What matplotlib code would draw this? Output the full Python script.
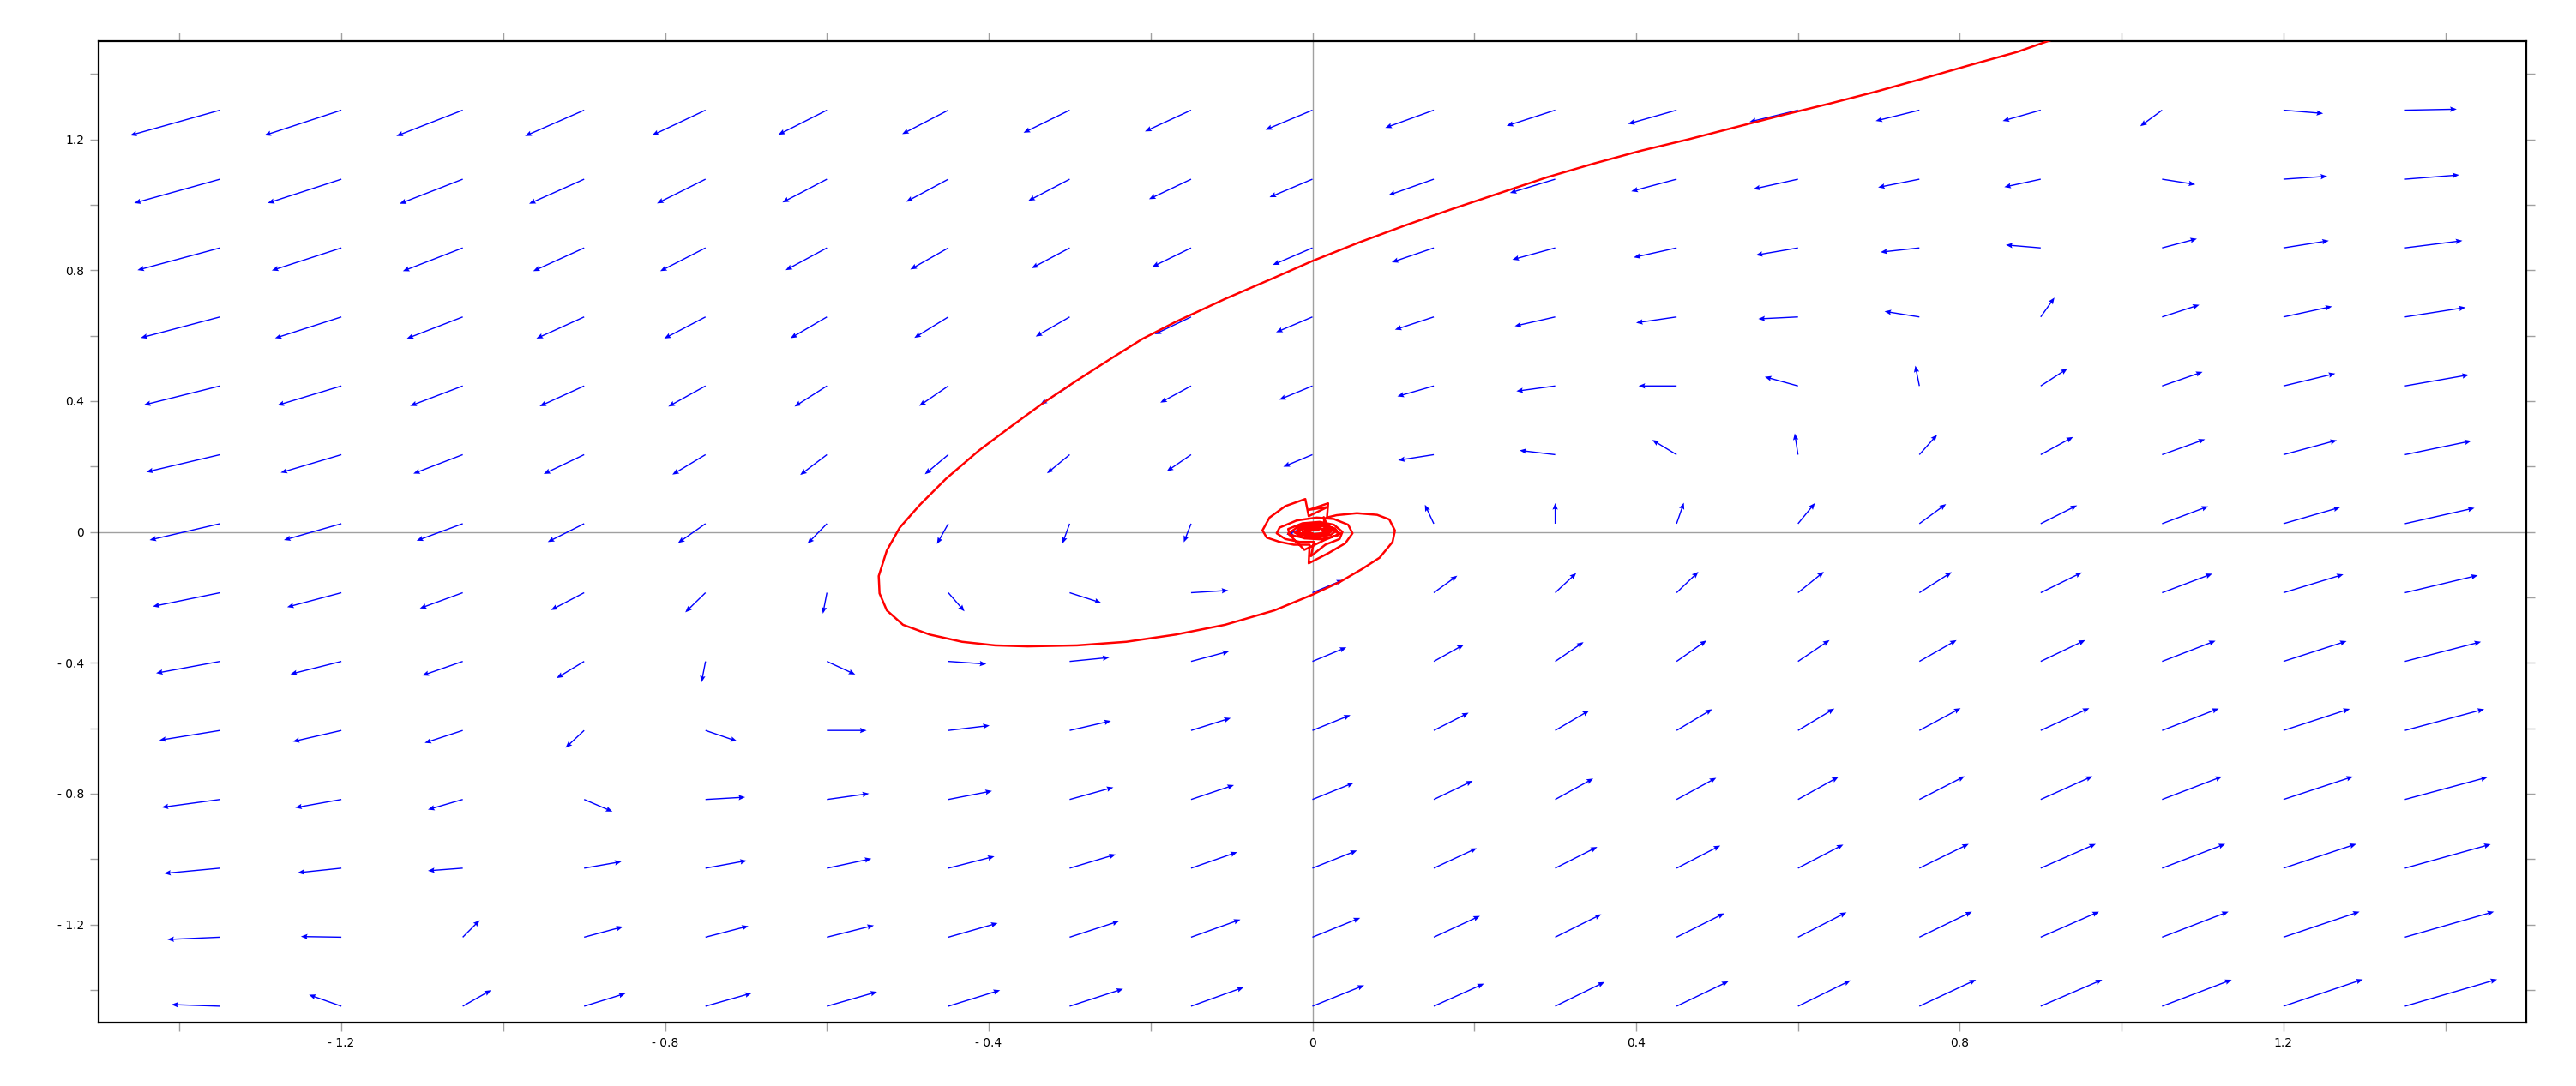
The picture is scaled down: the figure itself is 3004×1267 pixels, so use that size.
import numpy as np
import matplotlib
matplotlib.use("Agg")
import matplotlib.pyplot as plt
from matplotlib.ticker import MultipleLocator

# grid of arrow tails
x_grid = [-1.35, -1.2, -1.05, -0.9, -0.75, -0.6, -0.45, -0.3, -0.15, 0.0,
          0.15, 0.3, 0.45, 0.6, 0.75, 0.9, 1.05, 1.2, 1.35]
y_grid = [1.289, 1.078, 0.868, 0.657, 0.446, 0.236, 0.025,
          -0.186, -0.396, -0.607, -0.818, -1.028, -1.239, -1.45]

# arrow components, one row per y_grid value
U = [
    [-0.111, -0.095, -0.082, -0.073, -0.066, -0.060, -0.057, -0.057, -0.057, -0.058, -0.060, -0.060, -0.060, -0.060, -0.054, -0.047, -0.027, 0.049, 0.064],
    [-0.106, -0.091, -0.078, -0.068, -0.060, -0.055, -0.052, -0.051, -0.052, -0.053, -0.056, -0.056, -0.056, -0.055, -0.051, -0.045, 0.041, 0.054, 0.067],
    [-0.102, -0.086, -0.074, -0.063, -0.056, -0.051, -0.047, -0.047, -0.048, -0.049, -0.052, -0.053, -0.053, -0.052, -0.048, -0.043, 0.043, 0.056, 0.071],
    [-0.098, -0.082, -0.069, -0.059, -0.051, -0.045, -0.042, -0.042, -0.045, -0.045, -0.048, -0.050, -0.050, -0.049, -0.043, 0.017, 0.046, 0.060, 0.075],
    [-0.094, -0.079, -0.065, -0.055, -0.046, -0.040, -0.036, -0.036, -0.038, -0.041, -0.045, -0.048, -0.047, -0.041, -0.005, 0.033, 0.050, 0.064, 0.079],
    [-0.091, -0.075, -0.061, -0.050, -0.041, -0.033, -0.029, -0.028, -0.030, -0.036, -0.044, -0.044, -0.030, -0.004, 0.022, 0.040, 0.053, 0.066, 0.082],
    [-0.087, -0.071, -0.057, -0.045, -0.034, -0.024, -0.014, -0.009, -0.009, -0.032, -0.011, 0.000, 0.009, 0.021, 0.033, 0.045, 0.057, 0.070, 0.086],
    [-0.083, -0.067, -0.053, -0.041, -0.025, -0.005, 0.020, 0.039, 0.046, 0.038, 0.029, 0.026, 0.027, 0.032, 0.040, 0.051, 0.062, 0.074, 0.090],
    [-0.079, -0.063, -0.050, -0.034, -0.005, 0.035, 0.047, 0.049, 0.047, 0.042, 0.037, 0.035, 0.037, 0.039, 0.046, 0.055, 0.066, 0.078, 0.094],
    [-0.075, -0.060, -0.047, -0.023, 0.039, 0.049, 0.051, 0.051, 0.049, 0.047, 0.043, 0.042, 0.044, 0.045, 0.051, 0.060, 0.070, 0.082, 0.098],
    [-0.072, -0.057, -0.043, 0.035, 0.049, 0.052, 0.054, 0.054, 0.053, 0.051, 0.048, 0.047, 0.049, 0.050, 0.056, 0.064, 0.074, 0.086, 0.102],
    [-0.069, -0.054, -0.043, 0.046, 0.051, 0.055, 0.057, 0.057, 0.057, 0.055, 0.053, 0.052, 0.054, 0.056, 0.061, 0.068, 0.078, 0.090, 0.106],
    [-0.065, -0.050, 0.021, 0.048, 0.053, 0.058, 0.061, 0.061, 0.061, 0.059, 0.057, 0.057, 0.059, 0.060, 0.065, 0.072, 0.082, 0.094, 0.110],
    [-0.060, -0.040, 0.035, 0.051, 0.057, 0.062, 0.064, 0.066, 0.065, 0.064, 0.062, 0.061, 0.064, 0.065, 0.070, 0.076, 0.086, 0.098, 0.114],
]
V = [
    [-0.077, -0.077, -0.079, -0.079, -0.077, -0.075, -0.073, -0.069, -0.065, -0.060, -0.054, -0.048, -0.042, -0.036, -0.033, -0.033, -0.049, -0.010, 0.003],
    [-0.073, -0.073, -0.075, -0.075, -0.074, -0.071, -0.069, -0.066, -0.061, -0.055, -0.049, -0.042, -0.037, -0.030, -0.025, -0.024, -0.016, 0.009, 0.013],
    [-0.068, -0.069, -0.071, -0.071, -0.071, -0.068, -0.066, -0.062, -0.058, -0.052, -0.044, -0.036, -0.029, -0.022, -0.013, 0.009, 0.028, 0.022, 0.022],
    [-0.064, -0.065, -0.066, -0.066, -0.066, -0.065, -0.064, -0.060, -0.053, -0.047, -0.039, -0.028, -0.018, -0.006, 0.017, 0.059, 0.037, 0.032, 0.029],
    [-0.058, -0.059, -0.061, -0.062, -0.063, -0.063, -0.061, -0.056, -0.051, -0.042, -0.032, -0.016, 0.000, 0.028, 0.062, 0.053, 0.043, 0.038, 0.034],
    [-0.053, -0.055, -0.058, -0.059, -0.061, -0.062, -0.060, -0.057, -0.051, -0.037, -0.017, 0.013, 0.045, 0.065, 0.061, 0.054, 0.047, 0.044, 0.042],
    [-0.050, -0.050, -0.052, -0.056, -0.059, -0.061, -0.062, -0.061, -0.057, -0.034, 0.058, 0.063, 0.064, 0.063, 0.060, 0.056, 0.053, 0.050, 0.048],
    [-0.042, -0.044, -0.048, -0.053, -0.060, -0.064, -0.057, -0.031, 0.007, 0.039, 0.052, 0.060, 0.064, 0.064, 0.063, 0.062, 0.058, 0.056, 0.053],
    [-0.036, -0.039, -0.043, -0.051, -0.064, -0.040, -0.008, 0.012, 0.031, 0.043, 0.051, 0.059, 0.064, 0.065, 0.065, 0.065, 0.063, 0.062, 0.060],
    [-0.030, -0.034, -0.038, -0.053, -0.033, 0.000, 0.015, 0.029, 0.038, 0.047, 0.054, 0.061, 0.065, 0.067, 0.068, 0.068, 0.067, 0.066, 0.065],
    [-0.024, -0.025, -0.031, -0.037, 0.007, 0.018, 0.026, 0.037, 0.044, 0.051, 0.057, 0.064, 0.066, 0.069, 0.071, 0.071, 0.070, 0.070, 0.068],
    [-0.016, -0.014, -0.008, 0.020, 0.023, 0.029, 0.036, 0.042, 0.049, 0.054, 0.061, 0.065, 0.069, 0.072, 0.074, 0.074, 0.074, 0.074, 0.073],
    [-0.007, 0.002, 0.052, 0.032, 0.034, 0.036, 0.043, 0.049, 0.054, 0.059, 0.065, 0.070, 0.073, 0.076, 0.078, 0.078, 0.078, 0.078, 0.078],
    [0.005, 0.035, 0.049, 0.039, 0.040, 0.044, 0.049, 0.053, 0.058, 0.064, 0.069, 0.074, 0.076, 0.079, 0.081, 0.081, 0.081, 0.082, 0.082],
]

# the red trajectory, read point by point: the big arc first
arc_x = [0.915, 0.903, 0.871, 0.813, 0.755, 0.697, 0.639, 0.581, 0.523, 0.465, 0.406,
         0.348, 0.290, 0.232, 0.174, 0.116, 0.058, 0.000, -0.047, -0.108, -0.169, -0.210,
         -0.250, -0.291, -0.331, -0.372, -0.412, -0.453, -0.485, -0.510, -0.526, -0.536,
         -0.535, -0.526, -0.506, -0.473, -0.433, -0.392, -0.352, -0.291, -0.230, -0.169,
         -0.108, -0.047, 0.000, 0.034, 0.061, 0.083, 0.099, 0.102, 0.095, 0.080, 0.055,
         0.030, 0.018]
arc_y = [1.505, 1.495, 1.467, 1.427, 1.386, 1.346, 1.309, 1.274, 1.237, 1.200, 1.165,
         1.126, 1.084, 1.036, 0.988, 0.938, 0.885, 0.828, 0.777, 0.712, 0.642, 0.590,
         0.528, 0.463, 0.397, 0.323, 0.249, 0.162, 0.083, 0.013, -0.057, -0.135,
         -0.188, -0.240, -0.284, -0.314, -0.336, -0.347, -0.350, -0.347, -0.336, -0.314,
         -0.284, -0.240, -0.192, -0.153, -0.114, -0.079, -0.031, 0.004, 0.038, 0.052, 0.057,
         0.051, 0.044]

# ...then the jagged tangle it makes round the origin
tangle_x = [0.0194, -0.0046, 0.0187, -0.0046, -0.0088, -0.0336, -0.0530, -0.0618, -0.0565,
            -0.0406, -0.0230, -0.0035, -0.0046, 0.0194, 0.0406, 0.0495, 0.0442, 0.0265,
            0.0053, -0.0194, -0.0406, -0.0442, -0.0336, -0.0159, 0.0018, -0.0018, 0.0159,
            0.0336, 0.0371, 0.0265, 0.0088, -0.0124, -0.0300, -0.0283, -0.0124, 0.0053,
            0.0230, 0.0300, 0.0194, 0.0018, -0.0159, -0.0194, -0.0088, 0.0071, 0.0159,
            0.0140, 0.0200, 0.0350, 0.0150, -0.0100, -0.0300, -0.0150, 0.0100, 0.0280,
            0.0320, 0.0120, -0.0100, -0.0220, -0.0050, 0.0120, 0.0250, 0.0150, -0.0050,
            -0.0180, -0.0120, 0.0050, 0.0200, 0.0120, 0.0000, -0.0120, -0.0050, 0.0100,
            0.0150, 0.0000, -0.0080, 0.0050, 0.0088, -0.0018, -0.0071, 0.0]
tangle_y = [0.0873, 0.0672, 0.0760, 0.0480, 0.1004, 0.0786, 0.0437, 0.0044, -0.0175,
            -0.0306, -0.0393, -0.0393, -0.0961, -0.0655, -0.0349, -0.0044, 0.0218, 0.0393,
            0.0437, 0.0349, 0.0131, -0.0044, -0.0218, -0.0306, -0.0306, -0.0742, -0.0393,
            -0.0218, 0.0, 0.0218, 0.0306, 0.0262, 0.0087, -0.0087, -0.0175, -0.0175,
            -0.0087, 0.0044, 0.0175, 0.0218, 0.0131, 0.0, -0.0087, -0.0087, 0.0,
            0.0450, 0.0100, -0.0050, -0.0250, -0.0550, -0.0050, 0.0200, 0.0250, 0.0100,
            -0.0100, -0.0230, -0.0200, -0.0020, 0.0160, 0.0180, 0.0050, -0.0150, -0.0160,
            -0.0030, 0.0120, 0.0150, 0.0030, -0.0120, -0.0120, 0.0000, 0.0110, 0.0100,
            -0.0030, -0.0080, 0.0020, 0.0060, 0.0087, 0.0087, 0.0, -0.0044]

x_ticks = [-1.2, -0.8, -0.4, 0.0, 0.4, 0.8, 1.2]
x_ticklabels = ['- 1.2', '- 0.8', '- 0.4', '0', '0.4', '0.8', '1.2']
y_ticks = [-1.2, -0.8, -0.4, 0.0, 0.4, 0.8, 1.2]
y_ticklabels = ['- 1.2', '- 0.8', '- 0.4', '0', '0.4', '0.8', '1.2']

fig = plt.figure(figsize=(30.04, 12.67), dpi=100)
ax = fig.add_axes([115 / 3004, 1 - 1193 / 1267, 2831 / 3004, 1145 / 1267])

# axes through the origin
ax.axhline(0, color='#a0a0a0', lw=1.0, zorder=1)
ax.axvline(0, color='#a0a0a0', lw=1.0, zorder=1)

X, Y = np.meshgrid(x_grid, y_grid)
ax.quiver(X, Y, np.array(U), np.array(V), color='#0000ff',
          angles='xy', scale_units='xy', scale=1,
          units='dots', width=1.4, headwidth=4.5, headlength=5.5, headaxislength=4.8,
          zorder=2)

ax.plot(arc_x + tangle_x, arc_y + tangle_y, color='#ff0000', lw=1.8, zorder=3)

ax.set_xlim(-1.5, 1.5)
ax.set_ylim(-1.5, 1.5)

ax.set_xticks(x_ticks)
ax.set_xticklabels(x_ticklabels)
ax.set_yticks(y_ticks)
ax.set_yticklabels(y_ticklabels)
ax.xaxis.set_minor_locator(MultipleLocator(0.2))
ax.yaxis.set_minor_locator(MultipleLocator(0.2))
ax.tick_params(which='both', direction='out', length=7, width=1.0, color='#a0a0a0',
               top=True, right=True, labelsize=10, pad=5)

for sp in ax.spines.values():
    sp.set_linewidth(1.6)
    sp.set_color('black')

fig.savefig('out.png', dpi=100)
